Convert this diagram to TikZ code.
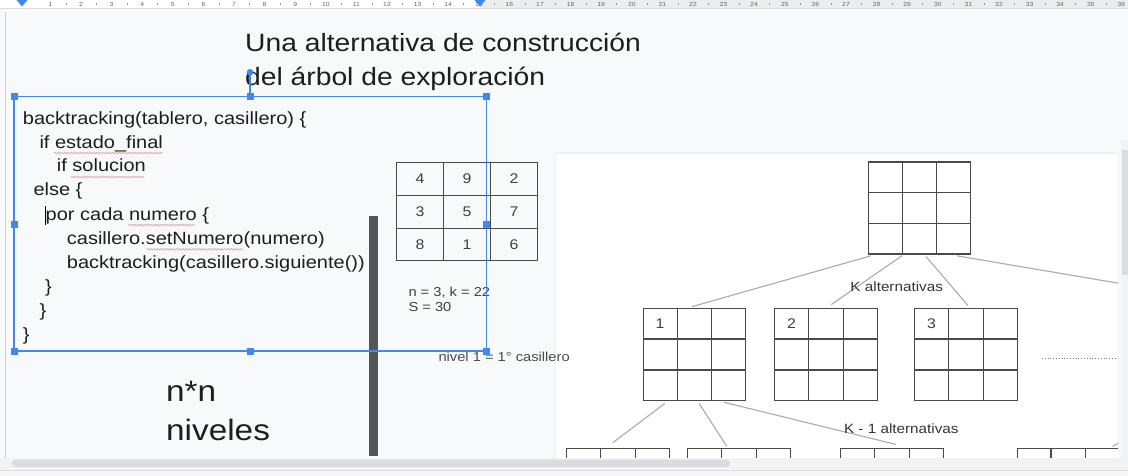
\documentclass[tikz,border=0pt]{standalone}
\usepackage{fontspec}
\setmainfont{Liberation Sans}[FakeStretch=1.13]
\usetikzlibrary{calc,decorations.pathmorphing}
\definecolor{bg}{HTML}{F8F9FA}
\definecolor{selc}{HTML}{4285F4}
\definecolor{txt}{HTML}{1E1E1E}
\definecolor{gridc}{HTML}{4A4A4A}
\definecolor{edgec}{HTML}{ABABAB}
\definecolor{barc}{HTML}{555555}
\definecolor{squigc}{HTML}{E8A0A0}
\definecolor{rulerg}{HTML}{EBEDEF}
\definecolor{thumbc}{HTML}{DADCE0}
\definecolor{trackc}{HTML}{F1F3F4}
\definecolor{panelb}{HTML}{DDDDDD}
\newcommand\fsz[1]{\fontsize{#1}{#1}\selectfont}
\newcommand\mkgrid[1]{%
  \draw[gridc, line width=1.1]
    ($(#1.north west)!1/3!(#1.north east)$) -- ($(#1.south west)!1/3!(#1.south east)$)
    ($(#1.north west)!2/3!(#1.north east)$) -- ($(#1.south west)!2/3!(#1.south east)$)
    ($(#1.north west)!1/3!(#1.south west)$) -- ($(#1.north east)!1/3!(#1.south east)$)
    ($(#1.north west)!2/3!(#1.south west)$) -- ($(#1.north east)!2/3!(#1.south east)$);}
\tikzset{
  titletext/.style={font=\fsz{25}, text=txt, anchor=base west, inner sep=0},
  codetext/.style={font=\fsz{17.7}, text=txt, anchor=base west, inner sep=0},
  bigtext/.style={font=\fsz{29.5}, text=txt, anchor=base west, inner sep=0},
  smalltext/.style={font=\fsz{13}, text=txt!85, anchor=base west, inner sep=0},
  numtext/.style={font=\fsz{14}, text=txt!85, inner sep=0},
  treetext/.style={font=\fsz{13.5}, text=txt!90, anchor=base, inner sep=0},
  gridbox/.style={draw=gridc, line width=1.1, fill=white, minimum width=102.5, minimum height=92, inner sep=0},
  edge/.style={draw=edgec, line width=1.1},
  squig/.style={draw=squigc, line width=0.7, decorate, decoration={snake, amplitude=0.8, segment length=3.2}},
  sel/.style={draw=selc, line width=1.3},
}
\begin{document}
\begin{tikzpicture}[x=1pt, y=-1pt]
\useasboundingbox (0,0) rectangle (1128,476);
\fill[bg] (0,0) rectangle (1128,476);
% ruler
\fill[white] (0,0) rectangle (480,8);
\fill[rulerg] (480,0) rectangle (1128,8);
\draw[panelb, line width=0.6] (0,8) -- (1128,8);
\foreach \n in {1,...,36} {
  \node[font=\fsz{6}, text=black!60, inner sep=0] at ({19.8+30.6*\n},4) {\n};
  \draw[black!40, line width=0.4] ({19.8+30.6*\n+15.3},3) -- ({19.8+30.6*\n+15.3},5);
}
\fill[selc] (16.5,0) -- (27.5,0) -- (22,6.5) -- cycle;
\fill[selc] (474.5,0) -- (485.5,0) -- (480,6.5) -- cycle;
% left page edge
\draw[black!18, line width=0.8] (5,12) -- (5,470);

% title
\node[titletext] (t1) at (245,51.7) {Una alternativa de construcción};
\node[titletext] (t2) at (245,85.7) {del árbol de exploración};

% code
\node[codetext] (c1) at (22.7,124.3) {backtracking(tablero, casillero) \{};
\node[codetext] (c2) at (39.3,148.3) {if estado\_final};
\node[codetext] (c3) at (56.7,172) {if solucion};
\node[codetext] (c4) at (33.3,196) {else \{};
\node[codetext] (c5) at (45.5,220) {por cada numero \{};
\node[codetext] (c6) at (66.7,244) {casillero.setNumero(numero)};
\node[codetext] (c7) at (66.7,268) {backtracking(casillero.siguiente())};
\node[codetext] (c8) at (45,292) {\}};
\node[codetext] (c9) at (39.3,316) {\}};
\node[codetext] (c10) at (22.7,340) {\}};
% spell-check squiggles
\draw[squig] (54.3,153) -- (162.7,153);
\draw[squig] (71,177) -- (144.3,177);
\draw[squig] (128.3,225) -- (195,225);
\draw[squig] (146.7,249.3) -- (243.3,249.3);
% text cursor
\draw[black, line width=1.3] (45.2,206) -- (45.2,224.5);

% n*n niveles
\node[bigtext] (nn) at (166,401) {n*n};
\node[bigtext] (niv) at (166,440) {niveles};

% dark bar
\fill[barc] (369,216) rectangle (378,456);

% magic square
\node[draw=gridc, line width=1.1, minimum width=140.6, minimum height=98, inner sep=0] (ms) at (467,211.7) {};
\mkgrid{ms}
\node[numtext] (m11) at (420,178.9) {4};
\node[numtext] (m12) at (467,178.9) {9};
\node[numtext] (m13) at (514,178.9) {2};
\node[numtext] (m21) at (420,211.7) {3};
\node[numtext] (m22) at (467,211.7) {5};
\node[numtext] (m23) at (514,211.7) {7};
\node[numtext] (m31) at (420,244.5) {8};
\node[numtext] (m32) at (467,244.5) {1};
\node[numtext] (m33) at (514,244.5) {6};
\node[smalltext] (nk) at (408.3,296) {n = 3, k = 22};
\node[smalltext] (ss) at (408.3,311.7) {S = 30};

% tree panel
\fill[black!6] (554.5,152.5) rectangle (1119,461);
\fill[white] (556,154) rectangle (1118,461);
\node[smalltext, text=txt!80] (niv1) at (438.3,361.7) {nivel 1 = 1° casillero};
\begin{scope}
\clip (556,154) rectangle (1118,459);
\node[gridbox] (root) at (919.5,208) {};
\mkgrid{root}
\node[gridbox] (g1) at (694.5,354.5) {};
\mkgrid{g1}
\node[gridbox] (g2) at (826,354.5) {};
\mkgrid{g2}
\node[gridbox] (g3) at (966,354.5) {};
\mkgrid{g3}
\node[numtext] (l1) at ($(g1.north west)+(17.3,15.3)$) {1};
\node[numtext] (l2) at ($(g2.north west)+(17.3,15.3)$) {2};
\node[numtext] (l3) at ($(g3.north west)+(17.3,15.3)$) {3};
\node[gridbox] (gA) at (617.9,494.3) {};
\mkgrid{gA}
\node[gridbox] (gB) at (738.8,494.3) {};
\mkgrid{gB}
\node[gridbox] (gC) at (891.8,494.3) {};
\mkgrid{gC}
\node[gridbox] (gD) at (1068.3,494.3) {};
\mkgrid{gD}
\coordinate (off1) at (1300,314);
\coordinate (off2) at (1140,430);
\coordinate (dots1) at (1042,358);
\coordinate (dots2) at (1118,358);
\draw[edge] ($(root.south west)!0.03!(root.south east)+(0,1.3)$) -- ($(g1.north west)!0.476!(g1.north east)+(0,-1.3)$);
\draw[edge] ($(root.south west)!0.33!(root.south east)+(0,1.3)$) -- ($(g2.north west)!0.55!(g2.north east)+(0,-3.3)$);
\draw[edge] ($(root.south west)!0.563!(root.south east)+(0,2)$) -- ($(g3.north west)!0.52!(g3.north east)+(0,-2.3)$);
\draw[edge] ($(root.south west)!0.864!(root.south east)+(0,1.3)$) -- (off1);
\draw[edge] ($(g1.south west)!0.214!(g1.south east)+(0,2.3)$) -- ($(gA.north west)!0.45!(gA.north east)+(0,-5)$);
\draw[edge] ($(g1.south west)!0.544!(g1.south east)+(0,2.3)$) -- ($(gB.north west)!0.385!(gB.north east)+(0,-1.3)$);
\draw[edge] ($(g1.south west)!0.786!(g1.south east)+(0,1.3)$) -- ($(gC.north west)!0.54!(gC.north east)+(0,-3.3)$);
\draw[edge] ($(gD.north west)!0.927!(gD.north east)+(0,-1.3)$) -- (off2);
\draw[black!55, line width=0.8, dotted] (dots1) -- (dots2);
\node[treetext] (ka) at (896.7,291.5) {K alternativas};
\node[treetext] (k1a) at (901.3,433) {K - 1 alternativas};
\end{scope}

% vertical scrollbar
\fill[trackc] (1120.5,140) rectangle (1128,460);
\fill[thumbc] (1121.5,150) rectangle (1128,275);
% horizontal scrollbar
\fill[trackc] (0,458) rectangle (1128,469);
\fill[thumbc, rounded corners=3.5] (12,459.5) rectangle (730,467);
\fill[white!97!black] (0,469) rectangle (1128,476);
\draw[panelb, line width=0.6] (0,470.5) -- (1128,470.5);

% selection box
\draw[sel] (14,96.7) rectangle (486.7,351);
\draw[sel] (250,96.7) -- (250,72.3);
\fill[selc] (250,72.3) circle (3.3);
\foreach \p in {(14,96.7),(250,96.7),(486.7,96.7),(14,224),(486.7,224),(14,351),(250,351),(486.7,351)}
  \fill[selc] \p ++(-3.5,-3.5) rectangle ++(7,7);
\end{tikzpicture}
\end{document}
